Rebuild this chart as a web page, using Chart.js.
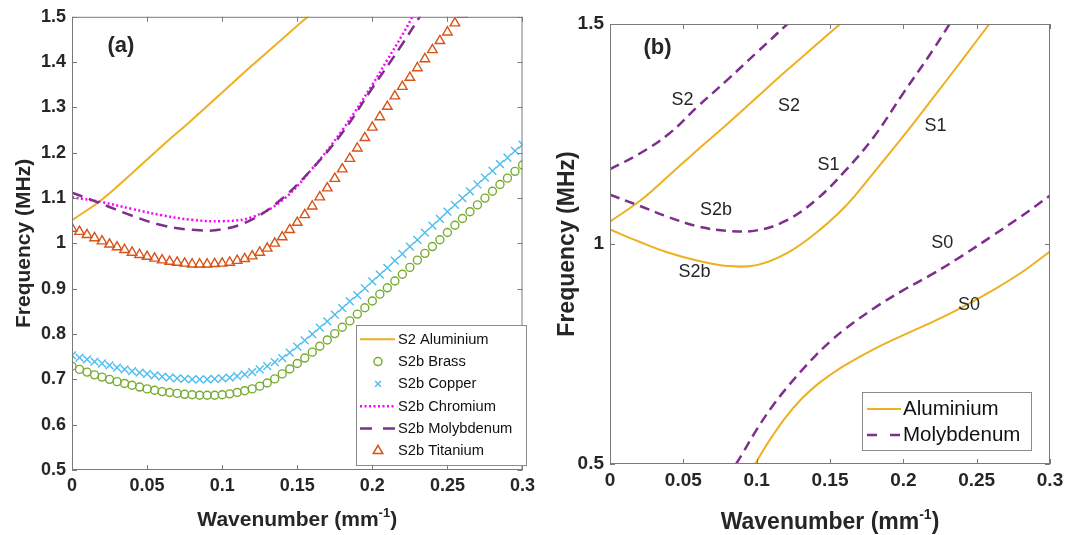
<!DOCTYPE html>
<html>
<head>
<meta charset="utf-8">
<script src="https://cdn.jsdelivr.net/npm/chart.js@4.4.0/dist/chart.umd.min.js"></script>
<style>
  html, body { margin: 0; padding: 0; background: #fff; }
  #wrap { position: relative; width: 1079px; height: 535px; overflow: hidden; }
  #wrap canvas { position: absolute; top: 0; }
  #chart-a { left: 0; }
  #chart-b { left: 540px; }
</style>
</head>
<body>
<div id="wrap">
  <canvas id="chart-a" width="540" height="535"></canvas>
  <canvas id="chart-b" width="539" height="535"></canvas>
</div>
<script>
// ---- data (wavenumber in mm^-1, frequency in MHz) ----

// marker series of panel (a), read every 0.005 mm^-1
const markerK = [0, 0.005, 0.01, 0.015, 0.02, 0.025, 0.03, 0.035, 0.04, 0.045, 0.05, 0.055, 0.06, 0.065, 0.07, 0.075,
  0.08, 0.085, 0.09, 0.095, 0.1, 0.105, 0.11, 0.115, 0.12, 0.125, 0.13, 0.135, 0.14, 0.145, 0.15, 0.155, 0.16, 0.165,
  0.17, 0.175, 0.18, 0.185, 0.19, 0.195, 0.2, 0.205, 0.21, 0.215, 0.22, 0.225, 0.23, 0.235, 0.24, 0.245, 0.25, 0.255,
  0.26, 0.265, 0.27, 0.275, 0.28, 0.285, 0.29, 0.295, 0.3];
const brassF = [0.729, 0.722, 0.716, 0.710, 0.705, 0.700, 0.695, 0.691, 0.687, 0.683,
  0.679, 0.676, 0.673, 0.671, 0.669, 0.667, 0.666, 0.665, 0.665, 0.665,
  0.666, 0.668, 0.671, 0.675, 0.679, 0.685, 0.692, 0.701, 0.712, 0.723,
  0.735, 0.747, 0.760, 0.773, 0.787, 0.801, 0.815, 0.829, 0.844, 0.858,
  0.873, 0.888, 0.902, 0.917, 0.932, 0.947, 0.963, 0.978, 0.993, 1.008,
  1.024, 1.040, 1.055, 1.070, 1.085, 1.100, 1.115, 1.130, 1.144, 1.159, 1.173];
const copperF = [0.753, 0.748, 0.744, 0.739, 0.735, 0.731, 0.726, 0.722, 0.718, 0.715,
  0.712, 0.709, 0.706, 0.704, 0.702, 0.701, 0.700, 0.700, 0.700, 0.701,
  0.702, 0.704, 0.707, 0.711, 0.716, 0.722, 0.729, 0.738, 0.747, 0.759,
  0.772, 0.786, 0.800, 0.814, 0.828, 0.843, 0.857, 0.872, 0.886, 0.901,
  0.916, 0.931, 0.946, 0.962, 0.977, 0.993, 1.008, 1.024, 1.039, 1.054,
  1.070, 1.085, 1.100, 1.115, 1.130, 1.145, 1.160, 1.175, 1.189, 1.204, 1.218];
const titaniumF = [1.033, 1.026, 1.019, 1.012, 1.005, 0.998, 0.992, 0.986, 0.980, 0.975,
  0.971, 0.967, 0.963, 0.960, 0.958, 0.956, 0.954, 0.954, 0.954, 0.955,
  0.956, 0.958, 0.962, 0.966, 0.972, 0.980, 0.989, 1.000, 1.014, 1.030,
  1.046, 1.063, 1.082, 1.102, 1.122, 1.143, 1.164, 1.187, 1.210, 1.233,
  1.256, 1.279, 1.302, 1.325, 1.346, 1.366, 1.387, 1.407, 1.427, 1.447,
  1.466, 1.486, 1.505];

// line series
const alS2K = [0, 0.02, 0.04, 0.06, 0.08, 0.1, 0.12, 0.14, 0.16];
const alS2F = [1.051, 1.097, 1.155, 1.215, 1.273, 1.333, 1.393, 1.451, 1.509];
const alS2bK = [0, 0.02, 0.04, 0.06, 0.08, 0.1, 0.12, 0.14, 0.16, 0.18, 0.2, 0.22, 0.24, 0.26];
const alS2bF = [1.033, 1.005, 0.980, 0.962, 0.950, 0.952, 0.978, 1.024, 1.084, 1.163, 1.245, 1.331, 1.418, 1.506];
const alS0K = [0.099, 0.105, 0.11, 0.12, 0.13, 0.14, 0.15, 0.16, 0.18, 0.2, 0.22, 0.24, 0.26, 0.28, 0.3];
const alS0F = [0.5, 0.534, 0.560, 0.607, 0.646, 0.677, 0.702, 0.724, 0.761, 0.793, 0.823, 0.856, 0.893, 0.934, 0.983];
const moS2K = [0, 0.02, 0.04, 0.06, 0.08, 0.1, 0.12, 0.13];
const moS2F = [1.170, 1.205, 1.250, 1.313, 1.373, 1.435, 1.497, 1.528];
const moS2bK = [0, 0.02, 0.04, 0.06, 0.08, 0.1, 0.12, 0.14, 0.16, 0.18, 0.2, 0.22, 0.24];
const moS2bF = [1.112, 1.087, 1.061, 1.040, 1.030, 1.031, 1.053, 1.099, 1.165, 1.244, 1.343, 1.440, 1.545];
const moS0K = [0.086, 0.09, 0.1, 0.11, 0.12, 0.13, 0.14, 0.15, 0.16, 0.18, 0.2, 0.22, 0.24, 0.26, 0.28, 0.3];
const moS0F = [0.5, 0.522, 0.578, 0.628, 0.671, 0.710, 0.746, 0.778, 0.806, 0.854, 0.895, 0.932, 0.973, 1.017, 1.062, 1.11];
const crK = [0, 0.02, 0.04, 0.06, 0.08, 0.1, 0.12, 0.14, 0.16, 0.18, 0.2, 0.21, 0.22, 0.23];
const crF = [1.102, 1.091, 1.076, 1.062, 1.052, 1.049, 1.058, 1.095, 1.165, 1.250, 1.350, 1.405, 1.460, 1.520];

// axis ticks
const kTicks = [0, 0.05, 0.1, 0.15, 0.2, 0.25, 0.3];
const fTicksA = [0.5, 0.6, 0.7, 0.8, 0.9, 1, 1.1, 1.2, 1.3, 1.4, 1.5];
const fTicksB = [0.5, 1, 1.5];

// mode labels of panel (b)
const tagText = ["S2", "S2", "S2b", "S2b", "S1", "S1", "S0", "S0"];
const tagK = [0.0494, 0.122, 0.0722, 0.0576, 0.149, 0.222, 0.2266, 0.2447];
const tagF = [1.328, 1.313, 1.078, 0.937, 1.179, 1.269, 1.002, 0.862];

// ---- helpers ----
const FONT = "'Liberation Sans', Arial, Helvetica, sans-serif";
const INK = "#262626";
const AL = "#EDB120", MO = "#7E2F8E", CR = "#FF00FF", TI = "#D95319", CU = "#4DBEEE", BR = "#77AC30";
const fmt = v => String(Number(Number(v).toFixed(2)));

function pts(xs, ys) {
  return ys.map((y, i) => ({ x: xs[i], y: y }));
}

function lineSet(label, xs, ys, color, width, dash, order) {
  return {
    label: label, data: pts(xs, ys), order: order,
    borderColor: color, backgroundColor: color, borderWidth: width, borderDash: dash || [],
    borderCapStyle: "butt", pointRadius: 0, tension: 0.4, fill: false
  };
}

function markSet(label, xs, ys, color, style, r, order) {
  return {
    label: label, data: pts(xs, ys), order: order, showLine: false,
    borderColor: color, backgroundColor: "rgba(0,0,0,0)",
    pointStyle: style, pointRadius: r, pointBorderWidth: 1.4,
    pointBorderColor: color, pointBackgroundColor: "rgba(0,0,0,0)"
  };
}

function scalesFor(fTicks, yWidth, xHeight, tickSize) {
  const tickFont = { family: FONT, size: tickSize, weight: "bold" };
  return {
    x: {
      type: "linear", min: 0, max: 0.3,
      afterFit: s => { s.height = xHeight; },
      afterBuildTicks: s => { s.ticks = kTicks.map(v => ({ value: v })); },
      grid: { display: false, drawTicks: false }, border: { display: false },
      ticks: { padding: 5, color: INK, font: tickFont, callback: fmt, maxRotation: 0, autoSkip: false }
    },
    y: {
      type: "linear", min: 0.5, max: 1.5,
      afterFit: s => { s.width = yWidth; },
      afterBuildTicks: s => { s.ticks = fTicks.map(v => ({ value: v })); },
      grid: { display: false, drawTicks: false }, border: { display: false },
      ticks: { padding: 6, color: INK, font: tickFont, callback: fmt, autoSkip: false }
    }
  };
}

// box, inward ticks, axis titles, legend and text labels
function decor(d) {
  return {
    id: "decor",
    afterDatasetsDraw(chart) {
      const { ctx, chartArea: a, scales } = chart;
      ctx.save();
      ctx.strokeStyle = "#7a7a7a";
      ctx.lineWidth = 1;
      ctx.setLineDash([]);
      ctx.strokeRect(a.left + 0.5, a.top + 0.5, a.right - a.left - 1, a.bottom - a.top - 1);
      ctx.beginPath();
      scales.x.ticks.forEach(t => {
        const px = Math.round(scales.x.getPixelForValue(t.value)) + 0.5;
        ctx.moveTo(px, a.bottom); ctx.lineTo(px, a.bottom - 5);
        ctx.moveTo(px, a.top); ctx.lineTo(px, a.top + 5);
      });
      scales.y.ticks.forEach(t => {
        const py = Math.round(scales.y.getPixelForValue(t.value)) + 0.5;
        ctx.moveTo(a.left, py); ctx.lineTo(a.left + 5, py);
        ctx.moveTo(a.right, py); ctx.lineTo(a.right - 5, py);
      });
      ctx.stroke();

      // legend
      const L = d.legend;
      ctx.fillStyle = "#fff";
      ctx.fillRect(L.x, L.y, L.w, L.h);
      ctx.strokeStyle = "#8a8a8a";
      ctx.strokeRect(L.x + 0.5, L.y + 0.5, L.w, L.h);
      ctx.font = L.size + "px " + FONT;
      ctx.textAlign = "left";
      ctx.textBaseline = "middle";
      L.items.forEach((it, i) => {
        const ds = chart.data.datasets[it.ds];
        const cy = L.y + L.first + i * L.rowH;
        ctx.save();
        if (ds.showLine === false) {
          ctx.strokeStyle = ds.pointBorderColor;
          ctx.fillStyle = "rgba(0,0,0,0)";
          ctx.lineWidth = 1.5;
          Chart.helpers.drawPoint(ctx, { pointStyle: ds.pointStyle, radius: it.r || ds.pointRadius, borderWidth: 1.5, rotation: 0 }, L.x + L.mark, cy);
        } else {
          ctx.strokeStyle = ds.borderColor;
          ctx.lineWidth = ds.borderWidth;
          ctx.setLineDash(it.dash || ds.borderDash);
          ctx.beginPath();
          ctx.moveTo(L.x + L.s0, cy);
          ctx.lineTo(L.x + L.s1, cy);
          ctx.stroke();
        }
        ctx.restore();
        ctx.fillStyle = "#111";
        ctx.fillText(it.text || ds.label, L.x + L.textX, cy + 0.5);
      });

      // text labels placed in data coordinates
      d.tags.forEach(t => {
        ctx.font = (t.bold ? "bold " : "") + t.size + "px " + FONT;
        ctx.fillStyle = INK;
        ctx.textAlign = "center";
        ctx.textBaseline = "middle";
        ctx.fillText(t.text, scales.x.getPixelForValue(t.k), scales.y.getPixelForValue(t.f));
      });

      // y title
      ctx.font = "bold " + d.titleSize + "px " + FONT;
      ctx.fillStyle = INK;
      ctx.save();
      ctx.translate(d.yTitleX, (a.top + a.bottom) / 2);
      ctx.rotate(-Math.PI / 2);
      ctx.textAlign = "center";
      ctx.textBaseline = "middle";
      ctx.fillText("Frequency (MHz)", 0, 0);
      ctx.restore();

      // x title with superscript
      const main = "Wavenumber (mm", sup = "-1", tail = ")";
      const supFont = "bold " + Math.round(d.titleSize * 0.62) + "px " + FONT;
      ctx.textBaseline = "alphabetic";
      ctx.textAlign = "left";
      const w1 = ctx.measureText(main).width;
      const w3 = ctx.measureText(tail).width;
      ctx.font = supFont;
      const w2 = ctx.measureText(sup).width;
      let x0 = (a.left + a.right) / 2 - (w1 + w2 + w3) / 2;
      ctx.font = "bold " + d.titleSize + "px " + FONT;
      ctx.fillText(main, x0, d.xTitleY);
      ctx.font = supFont;
      ctx.fillText(sup, x0 + w1, d.xTitleY - d.titleSize * 0.42);
      ctx.font = "bold " + d.titleSize + "px " + FONT;
      ctx.fillText(tail, x0 + w1 + w2, d.xTitleY);
      ctx.restore();
    }
  };
}

// ---- panel (a) ----
const chartA = new Chart(document.getElementById("chart-a"), {
  type: "line",
  data: {
    datasets: [
      lineSet("S2 Aluminium", alS2K, alS2F, AL, 2, [], 6),
      markSet("S2b Brass", markerK, brassF, BR, "circle", 4, 5),
      markSet("S2b Copper", markerK, copperF, CU, "crossRot", 5.5, 4),
      lineSet("S2b Chromium", crK, crF, CR, 2.5, [2, 2.5], 3),
      lineSet("S2b Molybdenum", moS2bK, moS2bF, MO, 2.5, [11, 7], 2),
      markSet("S2b Titanium", markerK.slice(0, titaniumF.length), titaniumF, TI, "triangle", 5.5, 1)
    ]
  },
  options: {
    responsive: false,
    animation: false,
    layout: { padding: { top: 16, right: 13, left: 0, bottom: 0 } },
    plugins: { legend: { display: false }, tooltip: { enabled: false } },
    scales: scalesFor(fTicksA, 72, 65, 18)
  },
  plugins: [decor({
    titleSize: 21, yTitleX: 24, xTitleY: 526,
    legend: {
      x: 356, y: 325, w: 170, h: 140, size: 14.7, first: 14.3, rowH: 22.3,
      s0: 4, s1: 39, mark: 22, textX: 42,
      items: [{ ds: 0 }, { ds: 1 }, { ds: 2, r: 4 }, { ds: 3 }, { ds: 4, dash: [12, 11] }, { ds: 5, r: 5.5 }]
    },
    tags: [{ text: "(a)", k: 0.0326, f: 1.436, size: 22, bold: true }]
  })]
});

// ---- panel (b) ----
const tagsB = [{ text: "(b)", k: 0.0324, f: 1.446, size: 22, bold: true }]
  .concat(tagText.map((t, i) => ({ text: t, k: tagK[i], f: tagF[i], size: 18, bold: false })));

const chartB = new Chart(document.getElementById("chart-b"), {
  type: "line",
  data: {
    datasets: [
      lineSet("Aluminium", alS2K, alS2F, AL, 2, [], 2),
      lineSet("Aluminium S2b", alS2bK, alS2bF, AL, 2, [], 2),
      lineSet("Aluminium S0", alS0K, alS0F, AL, 2, [], 2),
      lineSet("Molybdenum", moS2K, moS2F, MO, 2.5, [10, 6], 1),
      lineSet("Molybdenum S2b", moS2bK, moS2bF, MO, 2.5, [10, 6], 1),
      lineSet("Molybdenum S0", moS0K, moS0F, MO, 2.5, [10, 6], 1)
    ]
  },
  options: {
    responsive: false,
    animation: false,
    layout: { padding: { top: 24, right: 29, left: 0, bottom: 0 } },
    plugins: { legend: { display: false }, tooltip: { enabled: false } },
    scales: scalesFor(fTicksB, 70, 71, 19)
  },
  plugins: [decor({
    titleSize: 23, yTitleX: 28, xTitleY: 529,
    legend: {
      x: 322, y: 392, w: 169, h: 58, size: 20.5, first: 17, rowH: 26,
      s0: 5, s1: 39, mark: 22, textX: 41,
      items: [{ ds: 0 }, { ds: 3, dash: [10, 13] }]
    },
    tags: tagsB
  })]
});
</script>
</body>
</html>
